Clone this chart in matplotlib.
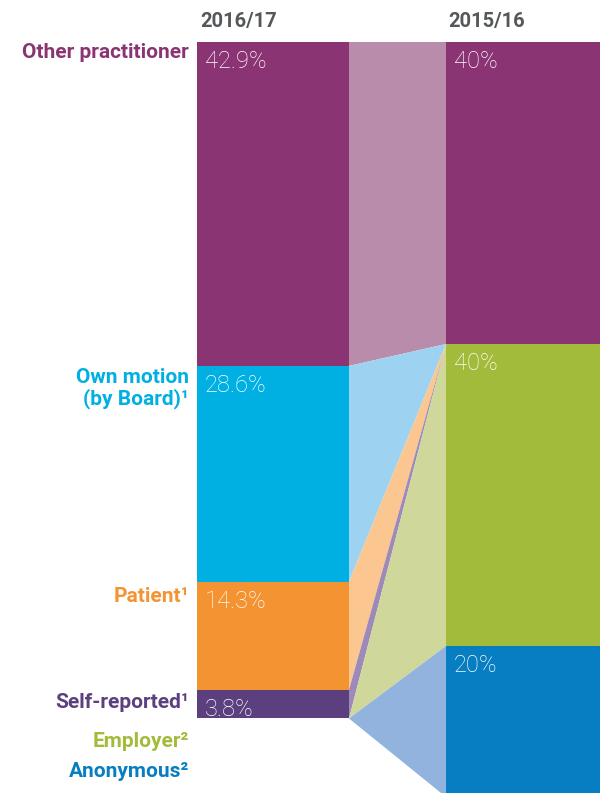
import matplotlib
matplotlib.use("Agg")
import matplotlib.pyplot as plt
import numpy as np

categories = ["Other practitioner", "Own motion", "Patient", "Self-reported", "Employer", "Anonymous"]
label_text = ["Other practitioner", "Own motion\n(by Board)\u00b9", "Patient\u00b9", "Self-reported\u00b9", "Employer\u00b2", "Anonymous\u00b2"]
years = ["2016/17", "2015/16"]
values_1617 = [42.9, 28.6, 14.3, 3.8, 0.0, 0.0]
values_1516 = [40.0, 0.0, 0.0, 0.0, 40.0, 20.0]
pct_1617 = ["42.9%", "28.6%", "14.3%", "3.8%", "", ""]
pct_1516 = ["40%", "", "", "", "40%", "20%"]

dark_colors = ["#8B3474", "#00B0E2", "#F39331", "#5B3F7E", "#A3BB3A", "#087EC2"]
light_colors = ["#B98CAB", "#9DD3F1", "#FBC68F", "#9E8AB8", "#CFD89A", "#91B3DE"]

plt.rcParams['font.family'] = ['Roboto', 'DejaVu Sans']

fig = plt.figure(figsize=(6.0, 7.93), dpi=100)
ax = fig.add_axes([0, 0, 1, 1])
ax.set_xlim(0, 600)
PX = 7.55  # pixels per percent
ax.set_ylim((793 - 42) / PX, -42 / PX)
ax.axis('off')

xL0, xL1 = 197, 349
xR0, xR1 = 446, 610

cumL = np.concatenate([[0], np.cumsum(values_1617)])
cumR = np.concatenate([[0], np.cumsum(values_1516)])

for i in range(len(categories)):
    if values_1617[i] > 0:
        ax.bar(xL0, values_1617[i], bottom=cumL[i], width=xL1 - xL0, align='edge',
               color=dark_colors[i], linewidth=0)
    if values_1516[i] > 0:
        ax.bar(xR0, values_1516[i], bottom=cumR[i], width=xR1 - xR0, align='edge',
               color=dark_colors[i], linewidth=0)
    ax.fill([xL1, xR0, xR0, xL1], [cumL[i], cumR[i], cumR[i + 1], cumL[i + 1]],
            color=light_colors[i], linewidth=0)

# percentage labels
for i in range(len(categories)):
    if pct_1617[i]:
        ax.text(xL0 + 8, cumL[i] + 8.5 / PX, pct_1617[i], color='white', fontsize=17,
                fontweight='light', ha='left', va='top')
    if pct_1516[i]:
        ax.text(xR0 + 8, cumR[i] + 8.5 / PX, pct_1516[i], color='white', fontsize=17,
                fontweight='light', ha='left', va='top')

# category labels
label_y = [cumL[0] + 1 / PX, cumL[1] + 2 / PX, cumL[2] + 5 / PX, cumL[3] + 3 / PX,
           cumL[4] + 14 / PX, cumL[4] + 44 / PX]
for i in range(len(categories)):
    ax.text(189, label_y[i], label_text[i], color=dark_colors[i], fontsize=15,
            fontweight='bold', ha='right', va='top', linespacing=1.1)

# year headers
ax.text(xL0 + 3, -21 / PX, years[0], color='#54585A', fontsize=14.5, fontweight='bold',
        ha='left', va='center')
ax.text(xR0 + 2, -21 / PX, years[1], color='#54585A', fontsize=14.5, fontweight='bold',
        ha='left', va='center')

fig.savefig("out.png", dpi=100)
